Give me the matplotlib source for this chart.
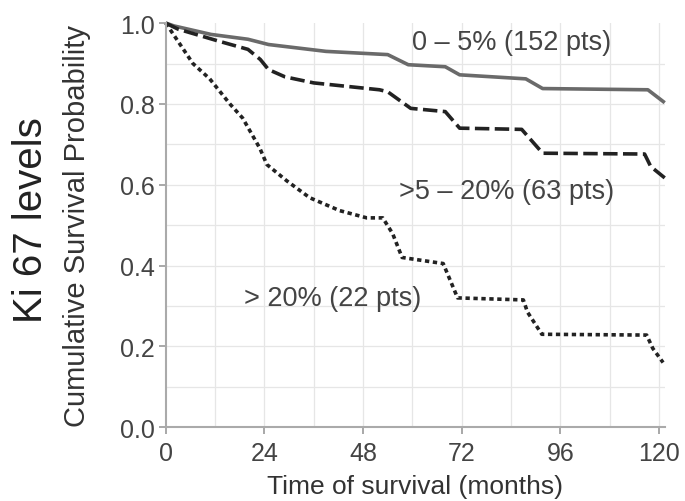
import matplotlib
matplotlib.use("Agg")
import matplotlib.pyplot as plt

plt.rcParams["font.family"] = ["Liberation Sans", "DejaVu Sans"]

# Kaplan-Meier curves (months, survival)
t_low = [0, 2, 11, 20, 25, 39, 54, 59, 68, 71.5, 87.6, 91.7, 117.3, 121.4]
s_low = [1.0, 0.993, 0.972, 0.96, 0.947, 0.93, 0.922, 0.897, 0.892, 0.872, 0.862, 0.838, 0.835, 0.803]

t_mid = [0, 3, 13, 20, 23, 25, 29, 36, 52, 54, 59.6, 68, 71.5, 86.6, 91.7, 116.5, 118, 121.4]
s_mid = [1.0, 0.985, 0.955, 0.935, 0.91, 0.885, 0.867, 0.852, 0.835, 0.83, 0.789, 0.781, 0.74, 0.737, 0.678, 0.676, 0.645, 0.617]

t_high = [0, 1, 6.6, 10.7, 15.6, 18.7, 22.9, 24.6, 29.4, 35, 42.3, 48.9, 52.8, 55.2, 57.5,
          67.5, 71, 87, 88, 91.5, 117, 118.5, 121]
s_high = [1.0, 0.985, 0.9, 0.862, 0.8, 0.765, 0.69, 0.65, 0.61, 0.568, 0.536, 0.518, 0.518, 0.479, 0.42,
          0.405, 0.32, 0.315, 0.285, 0.23, 0.228, 0.195, 0.16]

labels = ["0 – 5% (152 pts)", ">5 – 20% (63 pts)", "> 20% (22 pts)"]
x_ticks = [0, 24, 48, 72, 96, 120]
y_ticks = [0.0, 0.2, 0.4, 0.6, 0.8, 1.0]

fig = plt.figure(figsize=(6.85, 5.02), dpi=100)
ax = fig.add_axes([0.242, 0.147, 0.729, 0.805])

# faint grid
for x in range(12, 121, 12):
    ax.axvline(x, color="#e6e6e6", lw=0.9, zorder=0)
for y in [0.1, 0.2, 0.3, 0.4, 0.5, 0.6, 0.7, 0.8, 0.9]:
    ax.axhline(y, color="#e6e6e6", lw=0.9, zorder=0)

ax.plot(t_low, s_low, color="#6a6a6a", lw=2.6, solid_capstyle="butt", clip_on=False)
ax.plot(t_mid, s_mid, color="#222222", lw=2.6, linestyle=(0, (4, 1.5)), clip_on=False)
ax.plot(t_high, s_high, color="#222222", lw=2.6, linestyle=(0, (1.2, 1.0)), clip_on=False)

ax.text(60, 0.953, labels[0], fontsize=19.5, color="#444444", ha="left", va="center")
ax.text(56.7, 0.585, labels[1], fontsize=19.5, color="#444444", ha="left", va="center")
ax.text(19, 0.319, labels[2], fontsize=19.5, color="#444444", ha="left", va="center")

ax.set_xlim(0, 121.5)
ax.set_ylim(0, 1.0)
ax.set_xticks(x_ticks)
ax.set_yticks(y_ticks)
ax.set_yticklabels([f"{v:.1f}" for v in y_ticks])
ax.tick_params(axis="both", colors="#999999", labelcolor="#444444", labelsize=18,
               direction="out", length=5, width=1.2)
ax.tick_params(axis="x", pad=5)
ax.tick_params(axis="y", pad=3)

for side in ["top", "right"]:
    ax.spines[side].set_visible(False)
for side in ["left", "bottom"]:
    ax.spines[side].set_color("#aaaaaa")
    ax.spines[side].set_linewidth(1.5)

ax.set_xlabel("Time of survival (months)", fontsize=19, color="#333333")
ax.set_ylabel("Cumulative Survival Probability", fontsize=21, color="#333333")
ax.xaxis.set_label_coords(0.5, -0.117)
ax.yaxis.set_label_coords(-0.15, 0.5)

fig.text(0.045, 0.562, "Ki 67 levels", rotation=90, fontsize=29, color="#222222",
         ha="center", va="center")

fig.savefig("out.png", dpi=100)
